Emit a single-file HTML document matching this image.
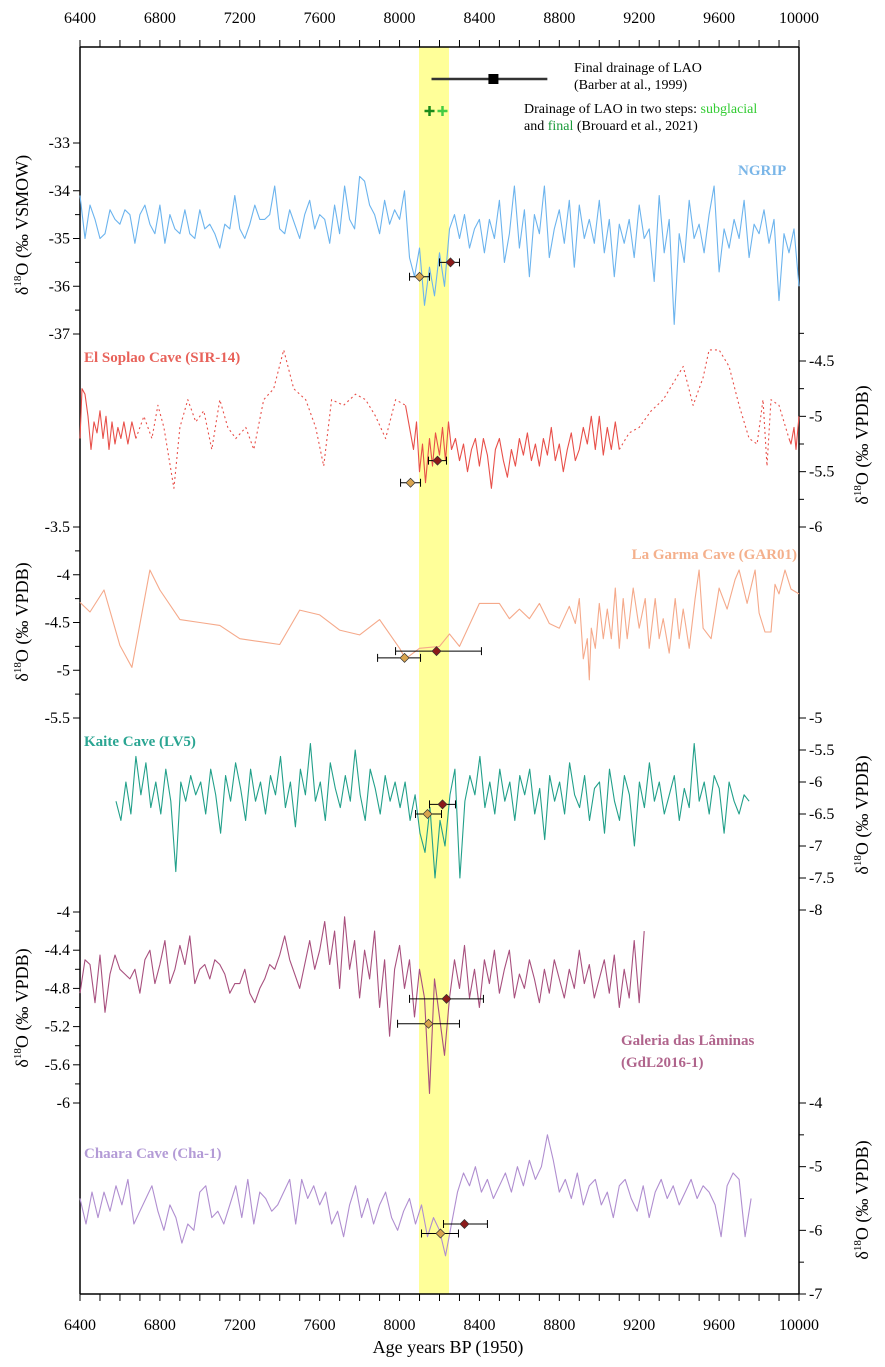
<!DOCTYPE html>
<html><head><meta charset="utf-8">
<style>
html,body{margin:0;padding:0;background:#fff;}
svg{display:block;font-family:"Liberation Serif",serif;}
</style></head>
<body>
<svg id="chart" width="885" height="1367" viewBox="0 0 885 1367" xmlns="http://www.w3.org/2000/svg">
<rect x="419" y="47" width="30" height="1247" fill="#ffff99"/>
<g id="axes"></g>
<g id="series"></g>
<g id="markers"></g>
<g font-size="14">
<text x="574" y="72">Final drainage of LAO</text>
<text x="574" y="89">(Barber at al., 1999)</text>
<text x="524" y="113">Drainage of LAO in two steps: <tspan fill="#33cc33">subglacial</tspan></text>
<text x="524" y="130">and <tspan fill="#1a9a3a">final</tspan> (Brouard et al., 2021)</text>
</g>
<g font-weight="bold" font-size="15">
<text x="738" y="175" fill="#7ab6e8">NGRIP</text>
<text x="84" y="362" fill="#e8625a">El Soplao Cave (SIR-14)</text>
<text x="797" y="559" fill="#f4b08c" text-anchor="end">La Garma Cave (GAR01)</text>
<text x="84" y="746" fill="#2aa592">Kaite Cave (LV5)</text>
<text x="621" y="1045" fill="#b0648c">Galeria das Lâminas</text>
<text x="621" y="1067" fill="#b0648c">(GdL2016-1)</text>
<text x="84" y="1158" fill="#b39bd6">Chaara Cave (Cha-1)</text>
</g>
<text x="448" y="1353" font-size="18" text-anchor="middle">Age years BP (1950)</text>
</svg>
<script>
const NS="http://www.w3.org/2000/svg";
const X0=6400,X1=10000,PX0=80,PX1=799,TOP=47,BOT=1294;
function xs(yr){return PX0+(yr-X0)*(PX1-PX0)/(X1-X0);}
// ---- data ----
const xTicks=[6400,6800,7200,7600,8000,8400,8800,9200,9600,10000];
const ngripVals=[-34.1,-35.0,-34.3,-34.6,-35.0,-34.9,-34.4,-34.6,-34.7,-34.4,-34.5,-35.1,-34.5,-34.3,-34.7,-34.9,-34.3,-35.1,-34.5,-34.8,-34.9,-34.4,-34.9,-35.0,-34.4,
-34.8,-34.7,-34.9,-35.2,-34.7,-34.8,-34.1,-34.8,-35.0,-34.7,-34.3,-34.6,-34.6,-34.5,-33.9,-34.8,-34.9,-34.4,-34.7,-35.0,-34.5,-34.2,-34.8,-34.5,
-34.6,-35.1,-34.3,-34.9,-33.9,-34.6,-34.8,-33.7,-33.8,-34.3,-34.5,-34.9,-34.2,-34.7,-34.4,-34.6,-34.0,-35.4,-35.8,-35.2,
-36.4,-35.6,-36.2,-35.3,-36.0,-34.8,
-34.5,-35.0,-34.5,-35.2,-34.8,-34.6,-35.3,-34.6,-35.0,-34.2,-35.5,-34.9,-33.9,-35.2,-34.4,-35.8,-34.5,-34.9,-33.9,-35.4,-34.8,-34.4,-35.1,-34.2,-35.6,-34.3,-35.0,-34.6,-35.1,-34.2,-35.3,-34.6,-35.8,-34.7,-35.1,-34.6,-35.4,-34.3,-35.0,-34.8,-35.9,-34.1,-35.3,-34.6,-36.8,-34.9,-35.5,-34.2,-35.0,-34.7,-35.3,-34.5,-33.9,-35.7,-34.8,-35.2,-34.6,-35.0,-34.2,-35.4,-34.7,-34.9,-34.4,-35.1,-34.6,-36.3,-34.9,-35.3,-34.8,-36.0];
const ngripRange=[6400,10000];
const soplaoYears=[6400,6410,6425,6440,6455,6470,6485,6500,6515,6530,6545,6560,6575,6590,6605,6620,6640,6660,6680,
6720,6760,6790,6820,6870,6900,6940,6980,7020,7060,7100,7140,7180,7230,7270,7320,7370,7420,7470,7530,7580,7620,7660,7720,7780,7830,7880,7930,7980,8030,
8050,8070,8085,8100,8115,8130,8150,8165,8180,8200,8215,8230,8245,8260,8280,8300,8320,8340,8360,8380,8400,8420,8440,8460,8480,8500,8520,8540,8560,8580,8600,8620,8640,8660,8680,8700,8720,8740,8760,8780,8800,8820,8840,8860,8880,8900,8920,8940,8960,8980,9000,9020,9040,9060,9080,9100,
9150,9200,9260,9320,9370,9420,9470,9520,9550,9600,9650,9700,9750,9790,9820,9840,9860,9900,9950,
9960,9975,9985,10000];
const soplaoVals=[-5.2,-4.75,-4.8,-5.0,-5.3,-5.05,-5.15,-4.95,-5.2,-5.0,-5.3,-5.05,-5.25,-5.1,-5.2,-5.05,-5.25,-5.05,-5.2,
-5.0,-5.2,-4.9,-5.1,-5.65,-5.1,-4.85,-5.05,-4.95,-5.3,-4.85,-5.1,-5.2,-5.1,-5.3,-4.85,-4.75,-4.4,-4.75,-4.85,-5.1,-5.45,-4.85,-4.9,-4.8,-4.85,-5.0,-5.2,-4.85,-4.9,
-5.1,-5.3,-5.05,-5.5,-5.25,-5.6,-5.2,-5.45,-5.15,-5.35,-5.1,-5.4,-5.05,-5.3,-5.2,-5.4,-5.25,-5.5,-5.3,-5.2,-5.45,-5.2,-5.35,-5.65,-5.3,-5.2,-5.4,-5.55,-5.3,-5.45,-5.2,-5.35,-5.15,-5.4,-5.25,-5.45,-5.2,-5.35,-5.1,-5.4,-5.25,-5.5,-5.3,-5.15,-5.4,-5.3,-5.1,-5.25,-5.0,-5.3,-5.0,-5.35,-5.1,-5.3,-5.05,-5.3,
-5.15,-5.1,-4.95,-4.85,-4.7,-4.55,-4.9,-4.65,-4.4,-4.4,-4.55,-4.9,-5.2,-5.25,-4.85,-5.45,-4.85,-4.9,-5.2,
-5.25,-5.1,-5.3,-5.0];
const soplaoSolid=[1,1,1,1,1,1,1,1,1,1,1,1,1,1,1,1,1,1,0,
0,0,0,0,0,0,0,0,0,0,0,0,0,0,0,0,0,0,0,0,0,0,0,0,0,0,0,0,0,1,
1,1,1,1,1,1,1,1,1,1,1,1,1,1,1,1,1,1,1,1,1,1,1,1,1,1,1,1,1,1,1,1,1,1,1,1,1,1,1,1,1,1,1,1,1,1,1,1,1,1,1,1,1,1,1,0,
0,0,0,0,0,0,0,0,0,0,0,0,0,0,0,0,0,0,1,
1,1,1,1];
const garmaYears=[6400,6450,6520,6600,6660,6750,6800,6900,7000,7100,7200,7300,7400,7500,7600,7700,7800,7900,8000,8030,8100,8200,8250,8300,8400,8500,8550,8600,8650,8700,8750,8800,8850,8880,8900,8920,8940,8950,8960,8980,9000,9020,9040,9060,9080,9100,9120,9140,9170,9200,9230,9250,9280,9300,9320,9350,9380,9400,9420,9450,9480,9500,9520,9560,9600,9640,9680,9700,9740,9780,9800,9830,9860,9880,9900,9930,9960,10000];
const garmaVals=[-4.29,-4.39,-4.16,-4.74,-4.97,-3.95,-4.16,-4.47,-4.5,-4.53,-4.67,-4.7,-4.73,-4.37,-4.42,-4.58,-4.63,-4.47,-4.77,-4.88,-4.77,-4.75,-4.62,-4.75,-4.3,-4.3,-4.46,-4.36,-4.46,-4.3,-4.51,-4.56,-4.33,-4.51,-4.25,-4.88,-4.67,-5.1,-4.56,-4.77,-4.3,-4.67,-4.36,-4.67,-4.14,-4.77,-4.25,-4.67,-4.14,-4.56,-4.25,-4.77,-4.25,-4.67,-4.46,-4.82,-4.25,-4.67,-4.36,-4.77,-4.25,-3.95,-4.56,-4.67,-4.14,-4.36,-4.05,-3.95,-4.3,-3.95,-4.4,-4.6,-4.6,-4.1,-4.2,-3.95,-4.15,-4.2];
const kaiteVals=[-6.3,-6.6,-6.0,-6.5,-5.6,-6.2,-5.7,-6.4,-6.0,-6.5,-5.8,-6.3,-7.4,-6.0,-6.3,-5.9,-6.2,
-6.0,-6.5,-5.8,-6.2,-6.8,-5.9,-6.3,-5.7,-6.1,-6.6,-5.8,-6.3,-6.0,-6.5,-5.9,-6.2,-5.6,-6.4,-6.0,-6.7,-5.8,-6.2,-5.4,-6.3,-6.0,-6.6,-5.7,-6.1,-6.4,-5.9,-6.3,-5.5,-6.2,-6.6,-5.8,-6.1,-6.5,-5.9,-6.3,-6.0,
-6.4,-6.0,-6.6,-6.2,-6.8,-7.1,-6.4,-7.5,-6.6,-7.0,-6.2,-5.8,-7.5,-6.3,
-5.9,-6.2,-5.6,-6.4,-6.0,-6.5,-5.8,-6.3,-6.0,-6.6,-5.9,-6.2,-5.8,-6.5,-6.1,-6.9,-5.9,-6.3,-6.0,-6.5,-5.7,-6.2,-6.4,-5.9,-6.6,-6.1,-6.0,-6.8,-5.8,-6.3,-6.6,-5.9,-6.2,-7.0,-6.0,-6.4,-5.7,-6.3,-6.0,-6.5,-6.2,-5.9,-6.6,-6.1,-6.4,-5.4,-6.3,-6.0,-6.5,-5.9,-6.1,-6.8,-6.0,-6.3,-6.5,-6.2,-6.3];
const kaiteRange=[6580,9750];
const gdlVals=[-4.85,-4.5,-4.55,-4.95,-4.45,-5.05,-4.65,-4.45,-4.6,-4.65,-4.7,-4.6,-4.85,-4.5,-4.4,-4.75,-4.55,-4.3,-4.75,-4.6,-4.35,-4.55,-4.25,-4.75,-4.6,
-4.55,-4.7,-4.5,-4.55,-4.65,-4.85,-4.75,-4.75,-4.6,-4.85,-4.95,-4.8,-4.7,-4.55,-4.6,-4.45,-4.25,-4.5,-4.65,-4.8,-4.55,-4.3,-4.6,-4.4,
-4.1,-4.55,-4.2,-4.8,-4.05,-4.6,-4.3,-4.9,-4.4,-4.7,-4.2,-5.0,-4.5,-5.3,-4.6,-4.35,-4.8,-4.5,-5.1,-4.6,
-4.9,-5.9,-4.7,-5.1,-5.5,-4.9,
-4.5,-4.8,-4.35,-4.9,-4.6,-5.0,-4.5,-4.75,-4.4,-4.85,-4.6,-4.4,-4.9,-4.65,-4.8,-4.5,-4.7,-4.95,-4.6,-4.85,-4.5,-4.7,-4.9,-4.6,-4.8,-4.4,-4.75,-4.55,-4.9,-4.7,-4.5,-4.85,-4.45,-5.0,-4.6,-4.9,-4.3,-4.95,-4.2];
const gdlRange=[6400,9225];
const chaaraVals=[-5.5,-5.9,-5.4,-5.8,-5.4,-5.7,-5.3,-5.6,-5.2,-5.9,-5.7,-5.5,-5.3,-5.7,-6.0,-5.6,-5.8,-6.2,-5.9,-6.0,-5.4,
-5.3,-5.8,-5.7,-5.9,-5.6,-5.3,-5.8,-5.2,-5.9,-5.4,-5.5,-5.7,-5.6,-5.4,-5.2,-5.9,-5.2,-5.5,-5.3,-5.6,
-5.4,-5.9,-5.7,-6.1,-5.6,-5.3,-5.8,-5.5,-5.9,-5.6,-5.4,-5.8,-6.0,-5.7,-5.5,-5.9,-5.6,-6.1,-5.8,-6.0,
-6.4,-5.9,-5.4,-5.1,-5.3,-5.0,-5.4,-5.2,-5.5,-5.3,-5.1,-5.4,-5.0,-5.3,-4.9,-5.2,-5.0,-4.5,-4.9,-5.4,-5.2,-5.5,-5.1,-5.6,-5.3,-5.2,-5.6,-5.4,-5.8,-5.3,-5.2,-5.5,-5.7,-5.3,-5.8,-5.4,-5.2,-5.5,-5.3,-5.6,-5.4,-5.2,-5.5,-5.3,-5.4,-5.6,-6.1,-5.3,-5.1,-5.2,-6.1,-5.5];
const chaaraRange=[6400,9760];
// markers: [tanYear, tanLo, tanHi, tanVal, redYear, redLo, redHi, redVal]
const mkNgrip=[8100,8050,8150,-35.8,8255,8200,8300,-35.5];
const mkSoplao=[8055,8005,8105,-5.6,8190,8145,8235,-5.4];
const mkGarma=[8025,7890,8105,-4.87,8185,7980,8410,-4.8];
const mkKaite=[8140,8080,8210,-6.5,8215,8150,8280,-6.35];
const mkGdl=[8145,7990,8300,-5.17,8235,8050,8420,-4.91];
const mkChaara=[8205,8110,8295,-6.05,8325,8220,8440,-5.9];
const barberAge=[8470,8160,8740];
const brouardAges=[8150,8215];
// ---- scales ----
function lin(v0,p0,v1,p1){return v=>p0+(v-v0)*(p1-p0)/(v1-v0);}
const yNgrip=lin(-33,143,-37,334);
const ySoplao=lin(-4.5,361,-6,527);
const yGarma=lin(-3.5,527,-5.5,718);
const yKaite=lin(-5,718,-8,910);
const yGdl=lin(-4,912,-6,1103);
const yChaara=lin(-4,1103,-7,1294);
function el(tag,attrs,parent){const e=document.createElementNS(NS,tag);for(const k in attrs)e.setAttribute(k,attrs[k]);parent.appendChild(e);return e;}
const axes=document.getElementById('axes'),series=document.getElementById('series'),markers=document.getElementById('markers');
// frame lines
let l;
l=el('line',{x1:PX0,y1:TOP,x2:PX1,y2:TOP,stroke:'#000','stroke-width':1.5},axes);


l=el('line',{x1:PX0,y1:BOT,x2:PX1,y2:BOT,stroke:'#000','stroke-width':1.5},axes);


l=el('line',{x1:PX0,y1:TOP,x2:PX0,y2:BOT,stroke:'#000','stroke-width':1.5},axes);


l=el('line',{x1:PX1,y1:TOP,x2:PX1,y2:BOT,stroke:'#000','stroke-width':1.5},axes);


for(let yr=X0;yr<=X1;yr+=100){
  const x=xs(yr);
  const t1=el('line',{x1:x,y1:TOP,x2:x,y2:TOP-7,stroke:'#000','stroke-width':1},axes);
  
  
  const t2=el('line',{x1:x,y1:BOT,x2:x,y2:BOT+7,stroke:'#000','stroke-width':1},axes);
  
  
}
xTicks.forEach(yr=>{
  const a=el('text',{x:xs(yr),y:23,'text-anchor':'middle','font-size':16},axes);a.textContent=yr;
  
  
  const b=el('text',{x:xs(yr),y:1330,'text-anchor':'middle','font-size':16},axes);b.textContent=yr;
  
  
});
function yAxis(scale,side,labels,minors,name){
  const x=side==='left'?PX0:PX1, dir=side==='left'?-1:1;
  minors.forEach(v=>{const t=el('line',{x1:x,y1:scale(v),x2:x+dir*5,y2:scale(v),stroke:'#000'},axes);
    
    });
  labels.forEach(v=>{const y=scale(v);
    const t=el('line',{x1:x,y1:y,x2:x+dir*7,y2:y,stroke:'#000'},axes);
    
    
    const tx=el('text',{x:x+dir*10,y:y+5,'text-anchor':side==='left'?'end':'start','font-size':16},axes);tx.textContent=String(v);
    
    });
}
yAxis(yNgrip,'left',[-33,-34,-35,-36,-37],[-33.5,-34.5,-35.5,-36.5],'ngrip-y');
yAxis(ySoplao,'right',[-4.5,-5,-5.5,-6],[-4.25,-4.75,-5.25,-5.75],'soplao-y');
yAxis(yGarma,'left',[-3.5,-4,-4.5,-5,-5.5],[-3.75,-4.25,-4.75,-5.25],'garma-y');
yAxis(yKaite,'right',[-5,-5.5,-6,-6.5,-7,-7.5,-8],[],'kaite-y');
yAxis(yGdl,'left',[-4,-4.4,-4.8,-5.2,-5.6,-6],[-4.2,-4.6,-5,-5.4,-5.8],'gdl-y');
yAxis(yChaara,'right',[-4,-5,-6,-7],[-4.5,-5.5,-6.5],'chaara-y');
function axTitle(x,y,name){
  const t=el('text',{x:x,y:y,transform:`rotate(-90 ${x} ${y})`,'text-anchor':'middle','font-size':18},axes);
  t.innerHTML='δ<tspan font-size="11" dy="-7">18</tspan><tspan dy="7">O (‰ '+name+')</tspan>';
  return t;
}
let at;
at=axTitle(28,225,'VSMOW');
at=axTitle(28,622,'VPDB');
at=axTitle(28,1008,'VPDB');
at=axTitle(868,445,'VPDB');
at=axTitle(868,815,'VPDB');
at=axTitle(868,1200,'VPDB');
// series
function evenYears(range,n){const a=[];for(let i=0;i<n;i++)a.push(range[0]+i*(range[1]-range[0])/(n-1));return a;}
function poly(years,vals,scale,color,name,dash){
  const pts=years.map((y,i)=>xs(y).toFixed(1)+','+scale(vals[i]).toFixed(1)).join(' ');
  const p=el('polyline',{points:pts,fill:'none',stroke:color,'stroke-width':1.1,'stroke-linejoin':'round'},series);
  if(dash)p.setAttribute('stroke-dasharray',dash);
  
  
}
poly(evenYears(ngripRange,ngripVals.length),ngripVals,yNgrip,'#6cb4ee','ngrip-line');
// soplao: split into solid / dotted runs
{let run=[0],solid=soplaoSolid[0];
 for(let i=1;i<soplaoYears.length;i++){
   run.push(i);
   const next=soplaoSolid[i];
   if(next!==solid||i===soplaoYears.length-1){
     poly(run.map(j=>soplaoYears[j]),run.map(j=>soplaoVals[j]),ySoplao,'#e8504a',solid?'soplao-line-solid':'soplao-line-dotted',solid?null:'2,3');
     run=[i];solid=next;
   }
 }}
poly(garmaYears,garmaVals,yGarma,'#f5a98a','la-garma-line');
poly(evenYears(kaiteRange,kaiteVals.length),kaiteVals,yKaite,'#22a08a','kaite-line');
poly(evenYears(gdlRange,gdlVals.length),gdlVals,yGdl,'#a8507e','gdl-line');
poly(evenYears(chaaraRange,chaaraVals.length),chaaraVals,yChaara,'#b08ed0','chaara-line');
// markers
function diamond(x,y,fill,name){
  const d=el('polygon',{points:`${x},${y-4.5} ${x+4.5},${y} ${x},${y+4.5} ${x-4.5},${y}`,fill:fill,stroke:'#333','stroke-width':0.7},markers);
  
  
}
function errbar(lo,hi,y,name){
  const x1=xs(lo),x2=xs(hi);
  const g=el('path',{d:`M${x1},${y}H${x2}M${x1},${y-4}V${y+4}M${x2},${y-4}V${y+4}`,stroke:'#000','stroke-width':1,fill:'none'},markers);
  
  
}
function mk(m,scale,name){
  errbar(m[1],m[2],scale(m[3]),name+'-tan-error');
  errbar(m[5],m[6],scale(m[7]),name+'-red-error');
  diamond(xs(m[0]),scale(m[3]),'#d9a44e',name+'-tan-marker');
  diamond(xs(m[4]),scale(m[7]),'#8b1a1a',name+'-red-marker');
}
mk(mkNgrip,yNgrip,'ngrip');mk(mkSoplao,ySoplao,'soplao');mk(mkGarma,yGarma,'garma');
mk(mkKaite,yKaite,'kaite');mk(mkGdl,yGdl,'gdl');mk(mkChaara,yChaara,'chaara');
// barber
{const b=el('line',{x1:xs(barberAge[1]),y1:79,x2:xs(barberAge[2]),y2:79,stroke:'#333','stroke-width':2.5},markers);
 
 
 const s=el('rect',{x:xs(barberAge[0])-5,y:74,width:10,height:10,fill:'#000'},markers);
 
 
 const cols=['#1a8a1a','#44cc44'];
 brouardAges.forEach((a,i)=>{const x=xs(a);
   const c=el('path',{d:`M${x-5},111H${x+5}M${x},106V116`,stroke:cols[i],'stroke-width':2.5},markers);
   
   });
}
</script>
</body></html>
